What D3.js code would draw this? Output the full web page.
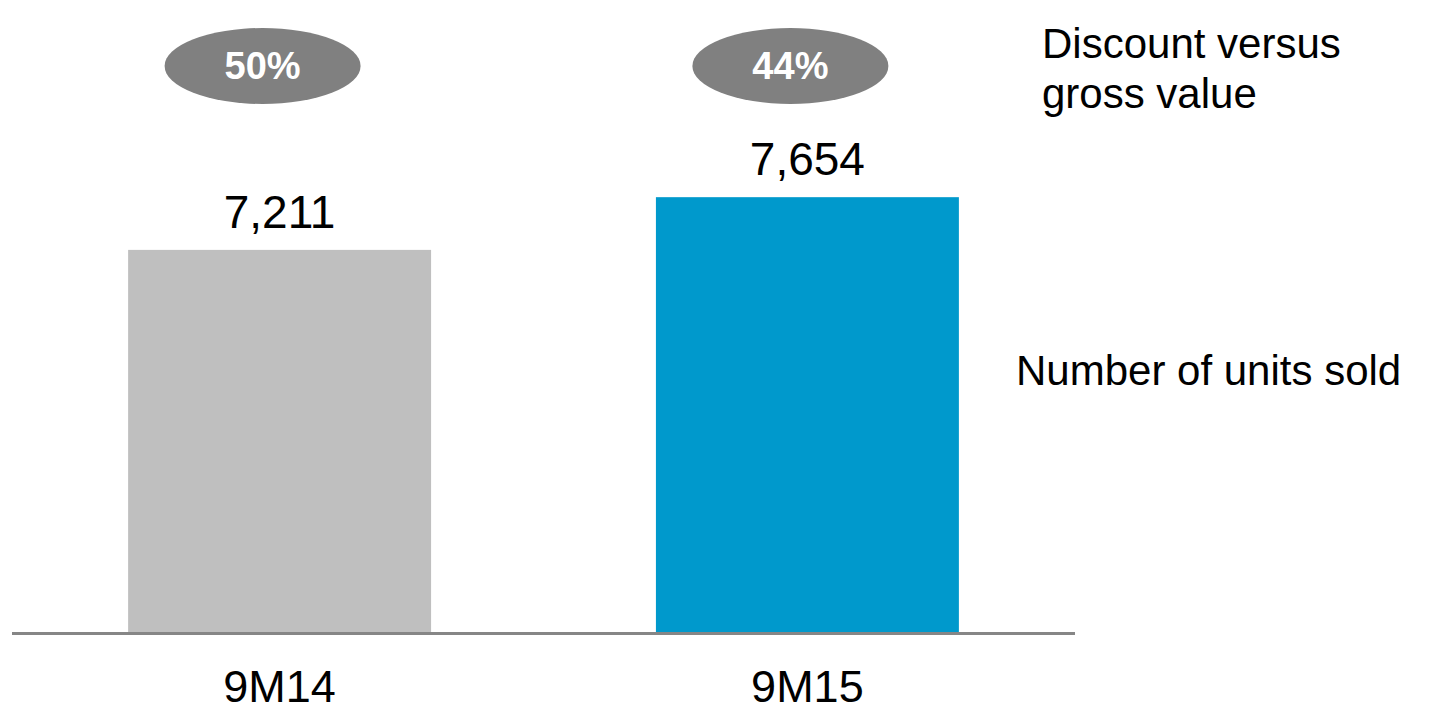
<!DOCTYPE html>
<html>
<head>
<meta charset="utf-8">
<script src="https://cdn.jsdelivr.net/npm/d3@7"></script>
<style>
  html, body { margin: 0; padding: 0; background: #fff; }
  svg { display: block; font-family: 'Liberation Sans', Arial, sans-serif; }
</style>
</head>
<body>
<div id="chart"></div>
<script>
// data
const periods = ['9M14', '9M15'];
const unitsSold = [7211, 7654];
const discounts = ['50%', '44%'];
const barColors = ['#bfbfbf', '#0099cc'];
const discountNote = ['Discount versus', 'gross value'];
const unitsNote = 'Number of units sold';

const width = 1439;
const height = 710;
const baseY = 632;

const svg = d3.select('#chart').append('svg')
  .attr('width', width)
  .attr('height', height);

// axis is not zero based in the source slide
const x = d3.scaleBand()
  .domain(periods)
  .range([12, 1075])
  .paddingInner(0.426)
  .paddingOuter(0.22);

const y = d3.scaleLinear()
  .domain([4000, 8000])
  .range([baseY, baseY - 476]);

const rows = periods.map((p, i) => ({
  period: p,
  value: unitsSold[i],
  discount: discounts[i],
  color: barColors[i]
}));

svg.append('g')
  .selectAll('rect')
  .data(rows)
  .enter().append('rect')
    .attr('x', d => x(d.period))
    .attr('y', d => y(d.value))
    .attr('width', x.bandwidth())
    .attr('height', d => baseY - y(d.value))
    .attr('fill', d => d.color);

// baseline
svg.append('line')
  .attr('x1', x.range()[0])
  .attr('x2', x.range()[1])
  .attr('y1', baseY + 1.5)
  .attr('y2', baseY + 1.5)
  .attr('stroke', '#868686')
  .attr('stroke-width', 3);

const fmt = d3.format(',');

svg.append('g')
  .selectAll('text')
  .data(rows)
  .enter().append('text')
    .attr('x', d => x(d.period) + x.bandwidth() / 2)
    .attr('y', d => y(d.value) - 22)
    .attr('text-anchor', 'middle')
    .style('font-size', '46px')
    .style('fill', '#000')
    .text(d => fmt(d.value));

svg.append('g')
  .selectAll('text')
  .data(rows)
  .enter().append('text')
    .attr('x', d => x(d.period) + x.bandwidth() / 2)
    .attr('y', 702)
    .attr('text-anchor', 'middle')
    .style('font-size', '45px')
    .style('fill', '#000')
    .text(d => d.period);

// discount bubbles
const bubble = svg.append('g')
  .selectAll('g')
  .data(rows)
  .enter().append('g')
    .attr('transform', d => `translate(${x(d.period) + x.bandwidth() / 2 - 17},66)`);

bubble.append('ellipse')
  .attr('rx', 98)
  .attr('ry', 38)
  .attr('fill', '#808080');

bubble.append('text')
  .attr('text-anchor', 'middle')
  .attr('y', 13)
  .style('font-size', '38px')
  .style('font-weight', 'bold')
  .style('fill', '#fff')
  .text(d => d.discount);

svg.append('text')
  .attr('x', 1042)
  .attr('y', 58)
  .style('font-size', '42px')
  .selectAll('tspan')
  .data(discountNote)
  .enter().append('tspan')
    .attr('x', 1042)
    .attr('dy', (d, i) => (i ? 50 : 0))
    .text(d => d);

svg.append('text')
  .attr('x', 1016)
  .attr('y', 385)
  .style('font-size', '42px')
  .text(unitsNote);
</script>
</body>
</html>
